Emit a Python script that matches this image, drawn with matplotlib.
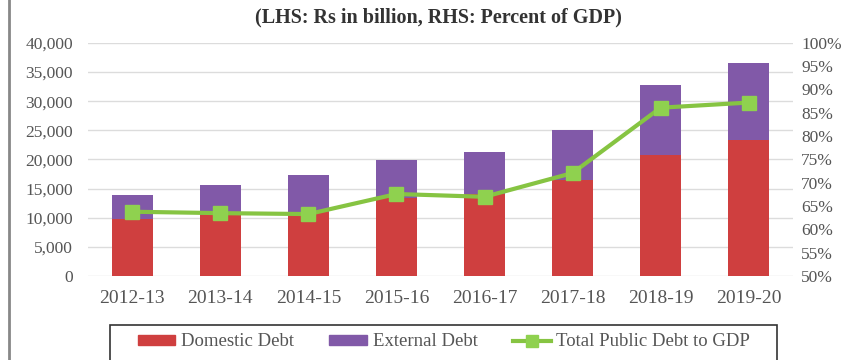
# Public debt: domestic vs external (LHS) and debt-to-GDP (RHS)

import numpy as np
import matplotlib.pyplot as plt
from matplotlib.ticker import FuncFormatter
from matplotlib.lines import Line2D
from matplotlib.patches import Rectangle

# -------------------- Data --------------------
years    = ['2012-13', '2013-14', '2014-15', '2015-16', '2016-17', '2017-18', '2018-19', '2019-20']
domestic = [9800, 10500, 11000, 13400, 14000, 16450, 20750, 23300]
external = [4100, 5150, 6350, 6450, 7300, 8600, 12000, 13200]
debt_gdp = [63.8, 63.5, 63.3, 67.6, 67.0, 72.1, 86.1, 87.2]

# -------------------- Style --------------------
COL_DOM   = "#CF3F3F"
COL_EXT   = "#8159A8"
COL_LINE  = "#86C442"
COL_MARK  = "#8FD14F"
COL_GRID  = "#DCDCDC"
COL_TXT   = "#555555"
FONT      = ["Liberation Serif", "DejaVu Serif"]

plt.rcParams['font.family'] = FONT

fig = plt.figure(figsize=(8.57, 3.6), dpi=100)
ax = fig.add_axes([0.103, 0.233, 0.822, 0.648])
x = np.arange(len(years))

ax.bar(x, domestic, width=0.46, color=COL_DOM, zorder=2)
ax.bar(x, external, width=0.46, bottom=domestic, color=COL_EXT, zorder=2)

ax.set_xlim(-0.5, len(years) - 0.5)
ax.set_ylim(0, 40000)
ax.set_yticks(np.arange(0, 40001, 5000))
ax.yaxis.set_major_formatter(FuncFormatter(lambda v, p: f"{int(v):,}"))
ax.set_xticks(x)
ax.set_xticklabels(years)
ax.grid(axis="y", color=COL_GRID, lw=1.0, zorder=0)
ax.tick_params(axis="y", length=0, labelsize=12.5, colors=COL_TXT, pad=11)
ax.tick_params(axis="x", length=0, labelsize=14, colors=COL_TXT, pad=10)
for s in ax.spines.values():
    s.set_visible(False)

# Right axis: percent of GDP
ax2 = ax.twinx()
ax2.plot(x, debt_gdp, color=COL_LINE, lw=3, marker="s", ms=10,
         markerfacecolor=COL_MARK, markeredgecolor=COL_MARK, zorder=3)
ax2.set_ylim(50, 100)
ax2.set_yticks(np.arange(50, 101, 5))
ax2.yaxis.set_major_formatter(FuncFormatter(lambda v, p: f"{int(v)}%"))
ax2.tick_params(axis="y", length=0, labelsize=12.5, colors=COL_TXT, pad=6)
for s in ax2.spines.values():
    s.set_visible(False)

fig.text(0.512, 0.952, "(LHS: Rs in billion, RHS: Percent of GDP)", ha="center", va="center",
         fontsize=14.5, fontweight="bold", color="#333333")

# Legend; its box runs off the bottom edge, as in the source crop
handles = [
    plt.Rectangle((0, 0), 1, 1, color=COL_DOM),
    plt.Rectangle((0, 0), 1, 1, color=COL_EXT),
    Line2D([0], [0], color=COL_LINE, lw=3, marker="s", ms=8,
           markerfacecolor=COL_MARK, markeredgecolor=COL_MARK),
]
leg = fig.legend(handles, ["Domestic Debt", "External Debt", "Total Public Debt to GDP"],
                 loc="center", bbox_to_anchor=(0.518, 0.05), ncol=3, fontsize=13.5,
                 frameon=False, handlelength=2.0, handleheight=0.45, handletextpad=0.3,
                 columnspacing=1.9, borderaxespad=0)
for t in leg.get_texts():
    t.set_color(COL_TXT)
fig.add_artist(Rectangle((0.128, -0.05), 0.779, 0.147, transform=fig.transFigure,
                         fill=False, edgecolor="#333333", lw=1.2))

# Left frame edge of the source page
fig.add_artist(Line2D([0.01, 0.01], [0, 1], transform=fig.transFigure, color="#888888", lw=2))

fig.savefig("out.png", dpi=100)
